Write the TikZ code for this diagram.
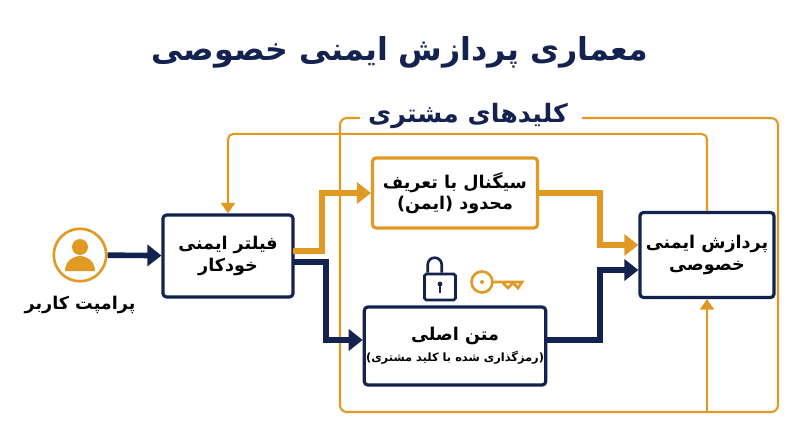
\documentclass[tikz,border=0pt]{standalone}
\usepackage{fontspec}
\newfontfamily\fa[Script=Arabic]{DejaVu Sans}
\TeXXeTstate=1
\newcommand{\rtl}[1]{\beginR #1\endR}
\usetikzlibrary{arrows.meta}
\definecolor{navy}{HTML}{14224F}
\definecolor{gold}{HTML}{E09A24}
\begin{document}
\begin{tikzpicture}[x=0.02cm, y=-0.02cm,
            box/.style = {draw=navy, line width=1.8pt, rounded corners=2pt, fill=white,
                          align=center, font=\fa\bfseries, text=black},
            obox/.style = {box, draw=gold},
            thin/.style = {draw=gold, line width=1.2pt},
            tharr/.style = {line width=3.2pt, -{Triangle[length=8pt,width=12pt]}},
            tnarr/.style = {thin, -{Triangle[length=6pt,width=8pt]}},
        ]
        \useasboundingbox (0,0) rectangle (800,447);
        \node (T) [font=\fa\bfseries\fontsize{18}{22}\selectfont, text=navy] at (400,52) {\rtl{معماری پردازش ایمنی خصوصی}};

        % outer loop
        \node (K) [font=\fa\bfseries\Large, text=navy] at (468,116) {\rtl{کلیدهای مشتری}};
        \coordinate (KL) at (340,118);
        \coordinate (KR) at (582,118);
        \draw[thin, rounded corners=4pt] (360,118) -- (KL) -- (340,412) -- (778,412) -- (778,118) -- (KR);

        \node (U) [draw=gold, line width=1.5pt, circle, minimum size=1.05cm] at (80,255) {};
        \fill[gold] (80,247) circle (8);
        \fill[gold] (65,271) arc (180:360:15) -- cycle;
        \node (UL) [font=\fa\bfseries] at (80,305) {\rtl{پرامپت کاربر}};

        \node (F) [box, minimum width=2.6cm, minimum height=1.64cm] at (228,256) {\rtl{فیلتر ایمنی}\\\rtl{خودکار}};
        \node (S) [obox, minimum width=3.3cm, minimum height=1.4cm] at (455,193) {\rtl{سیگنال با تعریف}\\\rtl{محدود (ایمن)}};
        \node (M) [box, inner xsep=1pt, minimum width=3.3cm, minimum height=1.56cm] at (455,346) {\rtl{متن اصلی}\\{\fontsize{6.5}{9}\selectfont\rtl{(رمزگذاری شده با کلید مشتری)}}};
        \node (P) [box, minimum width=2.6cm, minimum height=1.7cm] at (707,255) {\rtl{پردازش ایمنی}\\\rtl{خصوصی}};

        % inner loop
        \draw[tnarr, rounded corners=3pt] (P.north) -- ++(0,-77) -| (F.north);
        \coordinate (B) at (707,412);
        \draw[tnarr] (B) -- (P.south);

        \draw[tharr, navy] (U) -- (F);
        \draw[tharr, gold] (293,251) -| (322,193) -- (S.west);
        \draw[tharr, navy] (293,262) -| (326,340) -- (M.west |- 0,340);
        \draw[tharr, gold] (S.east) -| (600,245) -- (P.west |- 0,245);
        \draw[tharr, navy] (M.east |- 0,340) -| (600,270) -- (P.west |- 0,270);

        % lock and key
        \node (L) [draw=navy, line width=1.5pt, rounded corners=1pt, minimum width=0.62cm, minimum height=0.52cm] at (440,287) {};
        \draw[navy, line width=1.5pt] ([xshift=-7]L.north) -- ++(0,-8) arc (180:360:7) -- ++(0,8);
        \fill[navy] (440,284) circle (2.4);
        \draw[navy, line width=1.2pt] (440,284) -- (440,293);
        \node (KY) [draw=gold, line width=1.5pt, circle, minimum size=0.42cm] at (482,282) {};
        \fill[gold] (KY.center) circle (2);
        \draw[gold, line width=1.5pt] (KY.east) -- (522,282) -- (518,288) -- (513,283) -- (508,288) -- (503,283);
    \end{tikzpicture}
\end{document}
